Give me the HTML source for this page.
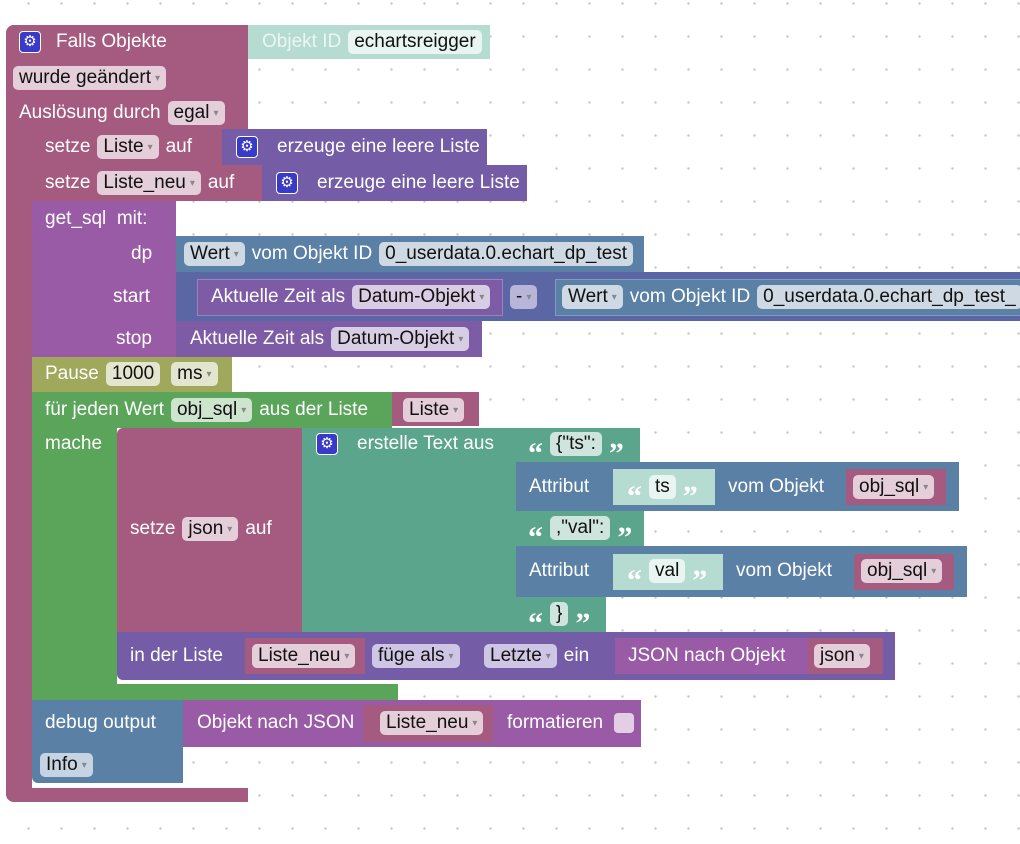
<!DOCTYPE html>
<html><head><meta charset="utf-8"><style>
body{margin:0;width:1020px;height:844px;overflow:hidden;background:#fff;
background-image:radial-gradient(circle,#c8c8c8 1.1px,transparent 1.4px);background-size:33px 33px;background-position:12px -13px;
font-family:"Liberation Sans",sans-serif;font-size:19px;color:#fff}
.b{position:absolute;box-sizing:border-box}
.r{position:absolute;display:flex;align-items:center;white-space:nowrap;height:30px}
.r>*{margin-right:7px}
.f{background:rgba(255,255,255,.7);color:#111;border-radius:5px;padding:0 6px;height:24px;line-height:24px;display:inline-block}
.f i{font-style:normal;font-size:10px;color:#888;margin-left:4px;vertical-align:2px}
.g{display:inline-block;width:22px;height:22px;border-radius:4px;background:#3a3ac8;border:1px solid #fff;box-sizing:border-box;text-align:center;line-height:20px;font-size:15px;color:#fff}
.q{font-weight:bold;font-size:30px;line-height:30px;height:30px;font-family:"Liberation Serif",serif;color:#fff;padding-top:10px;box-sizing:border-box}
</style></head><body>
<!-- trigger -->
<div class="b" style="left:6px;top:25px;width:242px;height:104px;background:#a55b80;border-radius:8px 0 0 0"></div>
<div class="b" style="left:6px;top:25px;width:26px;height:777px;background:#a55b80;border-radius:8px 0 0 8px"></div>
<div class="b" style="left:6px;top:788px;width:242px;height:14px;background:#a55b80;border-radius:0 0 0 8px"></div>
<div class="r" style="left:19px;top:27px"><span class="g">⚙</span><span style="margin-left:8px">Falls Objekte</span></div>
<div class="r" style="left:13px;top:63px"><span class="f">wurde geändert<i>▾</i></span></div>
<div class="r" style="left:19px;top:98px"><span>Auslösung durch</span><span class="f">egal<i>▾</i></span></div>
<div class="b" style="left:248px;top:25px;width:242px;height:34px;background:#b6dcd1"></div>
<div class="r" style="left:262px;top:27px"><span style="color:#eaf6f2">Objekt ID</span><span class="f">echartsreigger</span></div>
<!-- setze Liste -->
<div class="b" style="left:32px;top:129px;width:190px;height:36px;background:#a55b80"></div>
<div class="b" style="left:222px;top:129px;width:265px;height:36px;background:#745ca6"></div>
<div class="r" style="left:45px;top:132px"><span>setze</span><span class="f">Liste<i>▾</i></span><span>auf</span></div>
<div class="r" style="left:236px;top:132px"><span class="g">⚙</span><span style="margin-left:12px">erzeuge eine leere Liste</span></div>
<div class="b" style="left:32px;top:165px;width:230px;height:36px;background:#a55b80"></div>
<div class="b" style="left:262px;top:165px;width:265px;height:36px;background:#745ca6"></div>
<div class="r" style="left:45px;top:168px"><span>setze</span><span class="f">Liste_neu<i>▾</i></span><span>auf</span></div>
<div class="r" style="left:276px;top:168px"><span class="g">⚙</span><span style="margin-left:12px">erzeuge eine leere Liste</span></div>
<!-- get_sql -->
<div class="b" style="left:32px;top:201px;width:144px;height:156px;background:#995ba5"></div>
<div class="r" style="left:45px;top:204px"><span>get_sql&nbsp; mit:</span></div>
<div class="r" style="left:131px;top:239px">dp</div>
<div class="r" style="left:113px;top:282px">start</div>
<div class="r" style="left:116px;top:324px">stop</div>
<div class="b" style="left:176px;top:236px;width:468px;height:36px;background:#5b80a5"></div>
<div class="r" style="left:184px;top:239px"><span class="f">Wert<i>▾</i></span><span>vom Objekt ID</span><span class="f">0_userdata.0.echart_dp_test</span></div>
<div class="b" style="left:176px;top:272px;width:844px;height:49px;background:#5b67a5"></div>
<div class="b" style="left:197px;top:279px;width:306px;height:37px;background:#7e5ba5;border:1px solid #9b83c2"></div>
<div class="r" style="left:211px;top:282px"><span>Aktuelle Zeit als</span><span class="f">Datum-Objekt<i>▾</i></span></div>
<div class="r" style="left:510px;top:282px"><span class="f" style="background:#b9b5d8">-<i>▾</i></span></div>
<div class="b" style="left:555px;top:279px;width:465px;height:37px;background:#5b80a5;border:1px solid #7f9cc0;border-right:none"></div>
<div class="r" style="left:562px;top:282px"><span class="f">Wert<i>▾</i></span><span>vom Objekt ID</span><span class="f">0_userdata.0.echart_dp_test_</span></div>
<div class="b" style="left:176px;top:321px;width:306px;height:36px;background:#7e5ba5"></div>
<div class="r" style="left:190px;top:324px"><span>Aktuelle Zeit als</span><span class="f">Datum-Objekt<i>▾</i></span></div>
<!-- Pause -->
<div class="b" style="left:32px;top:357px;width:200px;height:35px;background:#a0a85c"></div>
<div class="r" style="left:45px;top:359px"><span>Pause</span><span class="f">1000</span><span class="f" style="margin-left:4px">ms<i>▾</i></span></div>
<!-- for loop -->
<div class="b" style="left:32px;top:392px;width:360px;height:36px;background:#5ba55b"></div>
<div class="b" style="left:32px;top:392px;width:85px;height:308px;background:#5ba55b"></div>
<div class="b" style="left:32px;top:684px;width:366px;height:16px;background:#5ba55b"></div>
<div class="r" style="left:45px;top:395px"><span>für jeden Wert</span><span class="f">obj_sql<i>▾</i></span><span>aus der Liste</span></div>
<div class="b" style="left:392px;top:392px;width:87px;height:34px;background:#a55b80"></div>
<div class="r" style="left:403px;top:395px"><span class="f">Liste<i>▾</i></span></div>
<div class="r" style="left:45px;top:429px">mache</div>
<!-- setze json -->
<div class="b" style="left:117px;top:428px;width:186px;height:204px;background:#a55b80;border-radius:6px 0 0 0"></div>
<div class="r" style="left:130px;top:514px"><span>setze</span><span class="f">json<i>▾</i></span><span>auf</span></div>
<div class="b" style="left:302px;top:428px;width:214px;height:204px;background:#5ba58c"></div>
<div class="r" style="left:316px;top:429px"><span class="g">⚙</span><span style="margin-left:12px">erstelle Text aus</span></div>
<div class="b" style="left:516px;top:428px;width:124px;height:34px;background:#5ba58c"></div>
<div class="r" style="left:528px;top:429px"><span class="q">“</span><span class="f">{"ts":</span><span class="q">”</span></div>
<div class="b" style="left:516px;top:462px;width:443px;height:49px;background:#5b80a5"></div>
<div class="b" style="left:613px;top:469px;width:102px;height:36px;background:#b6dcd1"></div>
<div class="r" style="left:529px;top:472px"><span>Attribut</span></div>
<div class="r" style="left:627px;top:472px"><span class="q">“</span><span class="f">ts</span><span class="q">”</span></div>
<div class="r" style="left:728px;top:472px"><span>vom Objekt</span></div>
<div class="b" style="left:846px;top:469px;width:100px;height:36px;background:#a55b80"></div>
<div class="r" style="left:853px;top:472px"><span class="f">obj_sql<i>▾</i></span></div>
<div class="b" style="left:516px;top:511px;width:128px;height:35px;background:#5ba58c"></div>
<div class="r" style="left:528px;top:513px"><span class="q">“</span><span class="f">,"val":</span><span class="q">”</span></div>
<div class="b" style="left:516px;top:546px;width:451px;height:51px;background:#5b80a5"></div>
<div class="b" style="left:613px;top:554px;width:110px;height:36px;background:#b6dcd1"></div>
<div class="r" style="left:529px;top:556px"><span>Attribut</span></div>
<div class="r" style="left:627px;top:556px"><span class="q">“</span><span class="f">val</span><span class="q">”</span></div>
<div class="r" style="left:736px;top:556px"><span>vom Objekt</span></div>
<div class="b" style="left:854px;top:554px;width:100px;height:36px;background:#a55b80"></div>
<div class="r" style="left:861px;top:556px"><span class="f">obj_sql<i>▾</i></span></div>
<div class="b" style="left:516px;top:597px;width:90px;height:35px;background:#5ba58c"></div>
<div class="r" style="left:528px;top:599px"><span class="q">“</span><span class="f">}</span><span class="q">”</span></div>
<!-- in der Liste -->
<div class="b" style="left:117px;top:632px;width:778px;height:48px;background:#745ca6;border-radius:0 0 0 6px"></div>
<div class="b" style="left:245px;top:638px;width:120px;height:36px;background:#a55b80"></div>
<div class="r" style="left:130px;top:641px"><span>in der Liste</span></div>
<div class="r" style="left:252px;top:641px"><span class="f">Liste_neu<i>▾</i></span></div>
<div class="r" style="left:372px;top:641px"><span class="f" style="background:#cfc6e6">füge als<i>▾</i></span></div>
<div class="r" style="left:484px;top:641px"><span class="f" style="background:#cfc6e6">Letzte<i>▾</i></span><span>ein</span></div>
<div class="b" style="left:615px;top:638px;width:268px;height:36px;background:#995ba5"></div>
<div class="r" style="left:628px;top:641px"><span>JSON nach Objekt</span></div>
<div class="b" style="left:808px;top:638px;width:75px;height:36px;background:#a55b80"></div>
<div class="r" style="left:814px;top:641px"><span class="f">json<i>▾</i></span></div>
<!-- debug -->
<div class="b" style="left:32px;top:700px;width:151px;height:83px;background:#5b80a5;border-radius:0 0 0 6px"></div>
<div class="r" style="left:45px;top:708px">debug output</div>
<div class="r" style="left:40px;top:750px"><span class="f" style="background:#c6d3e2">Info<i>▾</i></span></div>
<div class="b" style="left:183px;top:700px;width:458px;height:47px;background:#995ba5"></div>
<div class="r" style="left:197px;top:708px"><span>Objekt nach JSON</span></div>
<div class="b" style="left:363px;top:705px;width:130px;height:37px;background:#a55b80"></div>
<div class="r" style="left:380px;top:708px"><span class="f">Liste_neu<i>▾</i></span></div>
<div class="r" style="left:507px;top:708px"><span>formatieren</span><span style="display:inline-block;width:20px;height:20px;background:#e2cfe6;border-radius:4px;margin-left:4px"></span></div>
</body></html>
